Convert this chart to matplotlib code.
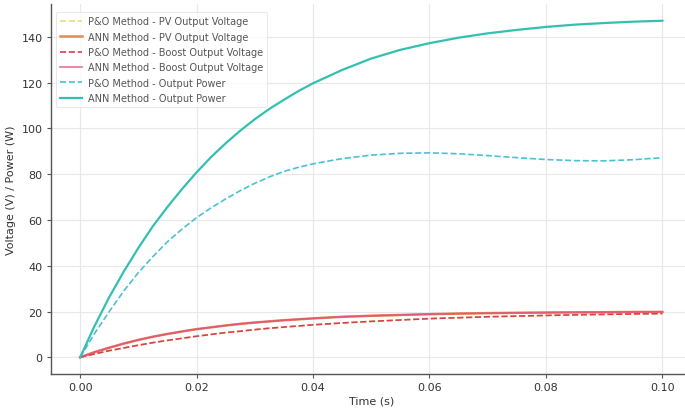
import numpy as np
import matplotlib
matplotlib.use("Agg")
import matplotlib.pyplot as plt

# 时间轴 (s)
t = [0.0, 0.0025, 0.005, 0.0075, 0.01, 0.0125, 0.015, 0.0175, 0.02, 0.0225,
     0.025, 0.0275, 0.03, 0.0325, 0.035, 0.0375, 0.04, 0.045, 0.05, 0.055,
     0.06, 0.065, 0.07, 0.075, 0.08, 0.085, 0.09, 0.095, 0.1]

# 电压曲线 (V)
po_pv_voltage = [0, 1.5, 2.9, 4.1, 5.3, 6.4, 7.4, 8.3, 9.2, 10.0,
                 10.8, 11.4, 12.1, 12.7, 13.2, 13.7, 14.2, 15.0, 15.7, 16.3,
                 16.9, 17.3, 17.7, 18.0, 18.3, 18.55, 18.75, 18.95, 19.1]
ann_pv_voltage = [0, 2.3, 4.2, 6.0, 7.6, 9.0, 10.2, 11.3, 12.3, 13.1,
                  13.9, 14.6, 15.2, 15.7, 16.2, 16.6, 17.0, 17.7, 18.15, 18.5,
                  18.85, 19.1, 19.3, 19.45, 19.55, 19.65, 19.7, 19.8, 19.85]
po_boost_voltage = [0, 1.5, 2.9, 4.1, 5.3, 6.4, 7.4, 8.3, 9.2, 10.0,
                    10.8, 11.4, 12.1, 12.7, 13.2, 13.7, 14.2, 15.0, 15.7, 16.3,
                    16.9, 17.3, 17.7, 18.0, 18.3, 18.55, 18.75, 18.95, 19.1]
ann_boost_voltage = [0, 2.3, 4.2, 6.0, 7.6, 9.0, 10.2, 11.3, 12.3, 13.1,
                     13.9, 14.6, 15.2, 15.7, 16.2, 16.6, 17.0, 17.7, 18.15, 18.5,
                     18.85, 19.1, 19.3, 19.45, 19.55, 19.65, 19.7, 19.8, 19.85]

# 功率曲线 (W)
po_power = [0, 10.5, 20, 29, 37, 44, 50.5, 56, 61, 65.3,
            69.2, 72.8, 76, 78.8, 81.2, 83.0, 84.5, 86.8, 88.3, 89.1,
            89.3, 88.9, 88.1, 87.2, 86.4, 85.9, 85.8, 86.3, 87.2]
ann_power = [0, 13.8, 26.3, 37.5, 47.8, 57.3, 65.7, 73.5, 80.8, 87.5,
             93.5, 99, 104, 108.5, 112.5, 116.3, 119.7, 125.5, 130.5, 134.3,
             137.2, 139.6, 141.5, 143, 144.3, 145.3, 146, 146.6, 147]

xticks = [0.00, 0.02, 0.04, 0.06, 0.08, 0.10]
yticks = [0, 20, 40, 60, 80, 100, 120, 140]

fig = plt.figure(figsize=(6.85, 4.10), dpi=100)
ax = fig.add_axes([0.0745, 0.085, 0.935, 0.903])

ax.plot(t, po_pv_voltage, '--', color='#e8df7a', lw=1.2, label='P&O Method - PV Output Voltage')
ax.plot(t, ann_pv_voltage, '-', color='#e8865a', lw=1.8, label='ANN Method - PV Output Voltage')
ax.plot(t, po_boost_voltage, '--', color='#d8404e', lw=1.2, label='P&O Method - Boost Output Voltage')
ax.plot(t, ann_boost_voltage, '-', color='#e0507a', lw=1.2, alpha=0.8, label='ANN Method - Boost Output Voltage')
ax.plot(t, po_power, '--', color='#4cc0d6', lw=1.2, label='P&O Method - Output Power')
ax.plot(t, ann_power, '-', color='#33c0b0', lw=1.6, label='ANN Method - Output Power')

ax.set_xticks(xticks)
ax.set_yticks(yticks)
ax.tick_params(labelsize=8, color='#555555', labelcolor='#333333', length=3, pad=3)
ax.set_xlabel('Time (s)', fontsize=8, color='#333333', labelpad=2)
ax.set_ylabel('Voltage (V) / Power (W)', fontsize=8, color='#333333', labelpad=4)

ax.grid(True, color='#e8e8e8', lw=0.8)
ax.set_axisbelow(True)
for s in ['top', 'right']:
    ax.spines[s].set_visible(False)
for s in ['left', 'bottom']:
    ax.spines[s].set_color('#555555')
    ax.spines[s].set_linewidth(1.0)

leg = ax.legend(loc='upper left', fontsize=7, labelspacing=0.55, handlelength=2.3,
                frameon=True, borderpad=0.4, handletextpad=0.6, bbox_to_anchor=(0.0, 0.99))
leg.get_frame().set_edgecolor('#dddddd')
leg.get_frame().set_linewidth(0.6)
for txt in leg.get_texts():
    txt.set_color('#555555')

fig.savefig('out.png', dpi=100)
